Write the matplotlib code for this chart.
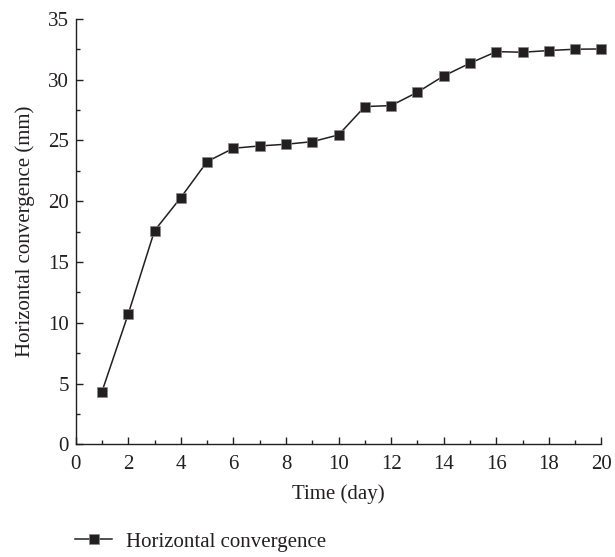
import matplotlib.pyplot as plt
from matplotlib.ticker import MultipleLocator

plt.rcParams['font.family'] = ['Liberation Serif', 'DejaVu Serif']

days = [1, 2, 3, 4, 5, 6, 7, 8, 9, 10, 11, 12, 13, 14, 15, 16, 17, 18, 19, 20]
convergence = [4.33, 10.72, 17.58, 20.3, 23.26, 24.36, 24.55, 24.69, 24.9, 25.46,
               27.79, 27.87, 28.97, 30.31, 31.36, 32.31, 32.26, 32.4, 32.51, 32.53]

fig = plt.figure(figsize=(6.15, 5.57), dpi=100)
ax = fig.add_axes([0.123, 0.2023, 0.855, 0.7637])

line, = ax.plot(days, convergence, color='#231f20', linewidth=1.1,
                marker='s', markersize=7.2, markerfacecolor='#231f20',
                markeredgecolor='#888888', markeredgewidth=0.5,
                label='Horizontal convergence', clip_on=False)

ax.set_xlim(0, 20)
ax.set_ylim(0, 35)
ax.xaxis.set_major_locator(MultipleLocator(2))
ax.xaxis.set_minor_locator(MultipleLocator(1))
ax.yaxis.set_major_locator(MultipleLocator(5))
ax.yaxis.set_minor_locator(MultipleLocator(2.5))

for side in ['top', 'right']:
    ax.spines[side].set_visible(False)
for side in ['left', 'bottom']:
    ax.spines[side].set_linewidth(1.0)
    ax.spines[side].set_color('#231f20')

fs = 15
ax.tick_params(which='both', direction='in', colors='#231f20', labelsize=fs)
ax.tick_params(which='major', length=5, width=1.0)
ax.tick_params(axis='x', which='major', pad=8)
ax.tick_params(axis='y', which='major', pad=5)
ax.tick_params(which='minor', length=3, width=1.0)

ax.set_xlabel('Time (day)', fontsize=fs, color='#231f20', labelpad=7)
ax.set_ylabel('Horizontal convergence (mm)', fontsize=fs, color='#231f20', labelpad=9)

fig.legend(handles=[line], loc='center left', bbox_to_anchor=(0.122, 0.027),
           frameon=False, fontsize=fs, borderpad=0, borderaxespad=0,
           handlelength=1.78, handletextpad=0.67,
           markerscale=0.95, labelcolor='#231f20')

fig.savefig('out.png', dpi=100)
